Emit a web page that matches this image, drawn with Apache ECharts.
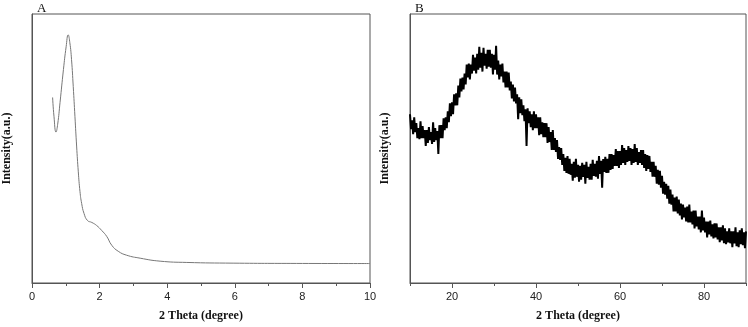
<!DOCTYPE html>
<html>
<head>
<meta charset="utf-8">
<script src="https://cdn.jsdelivr.net/npm/echarts@6/dist/echarts.min.js"></script>
<style>
  html, body { margin: 0; padding: 0; background: #fff; }
  #chart { width: 748px; height: 327px; }
</style>
</head>
<body>
<div id="chart"></div>
<script>
// panel A: low-angle scan
const thetaA = [0.61, 0.65, 0.71, 0.76, 0.83, 0.93, 1.01, 1.07, 1.12, 1.17, 1.22, 1.27, 1.32, 1.37, 1.42, 1.47, 1.54, 1.64, 1.77, 1.91, 2.06, 2.21, 2.36, 2.55, 2.8, 3.2, 3.79, 4.58, 5.95, 8, 10]
const intensityA = [187, 168, 152, 160, 182, 215, 238, 250, 242, 225, 198, 168, 138, 112, 92, 80, 70, 63, 61, 58, 53, 47, 38, 32, 28, 25, 22, 20.7, 20, 19.7, 19.6]

// panel B: wide-angle scan, 0.25 degree steps from 10 to 90
const bStart = 10
const bStep = 0.25
const intensityB = [
  170, 155, 164, 150, 167, 152, 161, 146, 156, 145, 163, 146, 158, 146, 154, 138,
  154, 141, 157, 144, 152, 140, 162, 142, 156, 144, 153, 130, 159, 146, 159, 146,
  166, 154, 167, 156, 173, 162, 181, 168, 182, 170, 190, 179, 191, 179, 199, 187,
  206, 193, 207, 195, 211, 200, 220, 207, 221, 205, 220, 211, 230, 214, 227, 211,
  231, 215, 238, 217, 232, 213, 237, 219, 231, 216, 235, 218, 235, 217, 231, 210,
  230, 215, 239, 210, 224, 205, 220, 208, 221, 202, 213, 197, 213, 197, 212, 194,
  203, 186, 200, 183, 197, 181, 190, 165, 187, 171, 185, 169, 179, 163, 175, 138,
  176, 161, 173, 157, 170, 154, 173, 156, 170, 156, 167, 149, 167, 150, 162, 147,
  161, 147, 161, 141, 157, 142, 152, 134, 154, 134, 146, 132, 144, 125, 137, 124,
  136, 119, 130, 113, 126, 111, 128, 110, 125, 109, 120, 103, 122, 106, 125, 107,
  119, 102, 118, 104, 121, 107, 119, 100, 122, 106, 117, 104, 120, 104, 124, 108,
  120, 107, 123, 105, 128, 110, 123, 96, 125, 112, 127, 111, 125, 111, 130, 114,
  130, 115, 129, 118, 135, 118, 133, 116, 133, 119, 139, 121, 136, 119, 134, 122,
  138, 123, 136, 119, 135, 121, 140, 122, 136, 119, 132, 121, 134, 119, 134, 116,
  130, 113, 129, 115, 128, 112, 122, 107, 122, 107, 118, 100, 114, 99, 113, 96,
  108, 90, 102, 89, 100, 85, 98, 80, 94, 79, 89, 72, 86, 72, 87, 70,
  84, 68, 80, 64, 79, 66, 76, 62, 77, 61, 79, 61, 72, 59, 73, 55,
  73, 57, 67, 54, 67, 51, 73, 53, 66, 51, 62, 46, 62, 49, 63, 47,
  59, 45, 60, 46, 60, 44, 56, 41, 56, 43, 58, 40, 55, 39, 52, 41,
  55, 40, 52, 36, 52, 40, 56, 37, 51, 36, 53, 39, 55, 38, 51, 35,
  52
]
const majorTicksB = [20, 40, 60, 80]
const minorTicksB = [10, 30, 50, 70, 90]

const axisColor = '#555'
const labelFont = { fontFamily: 'Liberation Sans, Arial', fontSize: 11, color: '#222' }
const nameFont = { fontFamily: 'Liberation Serif, Times New Roman', fontSize: 12, fontWeight: 'bold', color: '#111' }
const panelFont = { fontFamily: 'Liberation Serif, Times New Roman', fontSize: 13, fontWeight: 'normal', color: '#111' }

const seriesA = thetaA.map((t, i) => [t, intensityA[i]])
const seriesB = intensityB.map((v, i) => [bStart + i * bStep, v])

const chart = echarts.init(document.getElementById('chart'))

function yAxisFor(gridIndex) {
  return {
    gridIndex,
    type: 'value',
    min: 0,
    max: 271,
    name: 'Intensity(a.u.)',
    nameLocation: 'middle',
    nameGap: 19,
    nameTextStyle: nameFont,
    axisLine: { show: true, lineStyle: { color: axisColor } },
    axisTick: { show: false },
    axisLabel: { show: false },
    splitLine: { show: false }
  }
}

chart.setOption({
  animation: false,
  title: [
    { text: 'A', left: 32, top: -3, textStyle: panelFont },
    { text: 'B', left: 410, top: -3, textStyle: panelFont }
  ],
  grid: [
    { left: 32, right: 378, top: 14, bottom: 42, show: true, borderColor: axisColor, borderWidth: 1 },
    { left: 410, right: 2, top: 14, bottom: 42, show: true, borderColor: axisColor, borderWidth: 1 }
  ],
  xAxis: [
    {
      gridIndex: 0,
      type: 'value',
      min: 0,
      max: 10,
      interval: 2,
      name: '2 Theta (degree)',
      nameLocation: 'middle',
      nameGap: 27,
      nameTextStyle: nameFont,
      axisLine: { lineStyle: { color: axisColor } },
      axisTick: { length: 5, lineStyle: { color: axisColor } },
      minorTick: { show: true, splitNumber: 2, length: 3, lineStyle: { color: axisColor } },
      axisLabel: Object.assign({ margin: 8 }, labelFont),
      splitLine: { show: false }
    },
    {
      gridIndex: 1,
      type: 'value',
      min: 10,
      max: 90,
      name: '2 Theta (degree)',
      nameLocation: 'middle',
      nameGap: 27,
      nameTextStyle: nameFont,
      axisLine: { lineStyle: { color: axisColor } },
      axisTick: { length: 5, customValues: majorTicksB, lineStyle: { color: axisColor } },
      axisLabel: Object.assign({ margin: 8, customValues: majorTicksB }, labelFont),
      splitLine: { show: false }
    },
    {
      // short ticks between labelled ones
      gridIndex: 1,
      type: 'value',
      position: 'bottom',
      min: 10,
      max: 90,
      axisLine: { show: false },
      axisTick: { length: 3, customValues: minorTicksB, lineStyle: { color: axisColor } },
      axisLabel: { show: false },
      splitLine: { show: false }
    }
  ],
  yAxis: [yAxisFor(0), yAxisFor(1)],
  series: [
    {
      type: 'line',
      xAxisIndex: 0,
      yAxisIndex: 0,
      data: seriesA,
      smooth: 0.5,
      showSymbol: false,
      lineStyle: { color: '#777', width: 1 }
    },
    {
      type: 'line',
      xAxisIndex: 1,
      yAxisIndex: 1,
      data: seriesB,
      showSymbol: false,
      lineStyle: { color: '#000', width: 2 }
    }
  ]
})
</script>
</body>
</html>
